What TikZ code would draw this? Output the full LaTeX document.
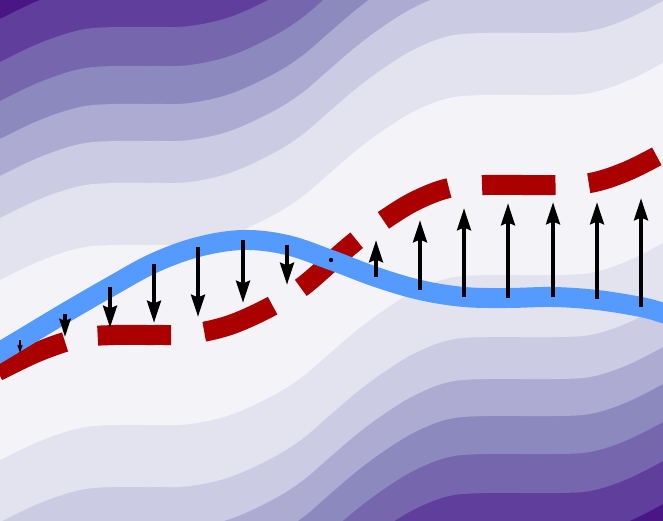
\documentclass[tikz,border=0pt]{standalone}
\usetikzlibrary{arrows.meta}
\definecolor{bandH}{RGB}{74,22,134}
\definecolor{bandG}{RGB}{96,62,155}
\definecolor{bandF}{RGB}{118,102,173}
\definecolor{bandE}{RGB}{140,137,191}
\definecolor{bandD}{RGB}{173,171,210}
\definecolor{bandC}{RGB}{203,203,227}
\definecolor{bandB}{RGB}{227,227,239}
\definecolor{bandA}{RGB}{244,243,248}
\definecolor{curveblue}{RGB}{85,155,255}
\definecolor{curvered}{RGB}{170,0,0}
\begin{document}
\begin{tikzpicture}[x=1pt,y=1pt,
  redline/.style={line width=20pt, curvered, line cap=butt, dash pattern=on 73.5pt off 33.3pt, dash phase=87pt},
  blueline/.style={line width=20pt, curveblue, line cap=butt},
  quiv/.style={line width=4.5pt, -{Stealth[length=22pt,width=13.5pt,inset=2.5pt]}},
  quivmid/.style={line width=3.7pt, -{Stealth[length=18pt,width=11pt,inset=2pt]}},
  quivsmall/.style={line width=2pt, -{Stealth[length=8pt,width=5pt,inset=1pt]}}]
\useasboundingbox (0,0) rectangle (663,521);
\clip (0,0) rectangle (663,521);
\fill[bandH] (0,0) rectangle (663,521);
% contour bands (level sets around the red curve)
\foreach \d/\c in {351/bandG, 308/bandF, 269/bandE, 231/bandD, 194/bandC, 152/bandB, 90/bandA} {
  \begin{scope}
    \clip[yshift=\d pt] plot[smooth,tension=0.6] coordinates {(-20,141) (0,151) (40,170) (80,183) (115,186) (155,186) (190,187) (230,196) (272,215) (302,234) (330,258) (357,281) (384,301) (415,320) (449,333) (485,336) (520,336) (555,336) (590,338) (625,349) (663,368) (690,384)} -- (700,-3000) -- (-40,-3000) -- cycle;
    \fill[\c, yshift=-\d pt] plot[smooth,tension=0.6] coordinates {(-20,141) (0,151) (40,170) (80,183) (115,186) (155,186) (190,187) (230,196) (272,215) (302,234) (330,258) (357,281) (384,301) (415,320) (449,333) (485,336) (520,336) (555,336) (590,338) (625,349) (663,368) (690,384)} -- (700,3000) -- (-40,3000) -- cycle;
  \end{scope}
}
% red dashed curve
\draw[redline] plot[smooth,tension=0.6] coordinates {(-20,141) (0,151) (40,170) (80,183) (115,186) (155,186) (190,187) (230,196) (272,215) (302,234) (330,258) (357,281) (384,301) (415,320) (449,333) (485,336) (520,336) (555,336) (590,338) (625,349) (663,368) (690,384)};
% blue curve
\draw[blueline] plot[smooth,tension=0.6] coordinates {(-20,157) (0,169) (20,181) (65,208) (110,234) (154,258) (198,274) (243,281) (287,276) (331,261) (376,244) (420,231) (464,224) (508,223) (553,224) (597,221) (641,214) (663,208) (690,199)};
% arrows
\coordinate (s1) at (20,181); \coordinate (e1) at (20,168);
\coordinate (s2) at (65,207); \coordinate (e2) at (65,184);
\draw[quivsmall] (s1) -- (e1);
\draw[quivmid] (s2) -- (e2);
\foreach \n/\x/\a/\b in {3/110/234/193, 4/154/257/198, 5/198/274/204, 6/243/281/218, 7/287/276/236, 9/376/244/281, 10/420/231/301, 11/464/224/313, 12/508/223/318, 13/553/224/319, 14/597/222/319, 15/641/214/323} {
  \coordinate (s\n) at (\x,\a);
  \coordinate (e\n) at (\x,\b);
  \draw[quiv] (s\n) -- (e\n);
}
\coordinate (s8) at (331,261);
\fill (s8) circle (2.2pt);
\end{tikzpicture}
\end{document}
